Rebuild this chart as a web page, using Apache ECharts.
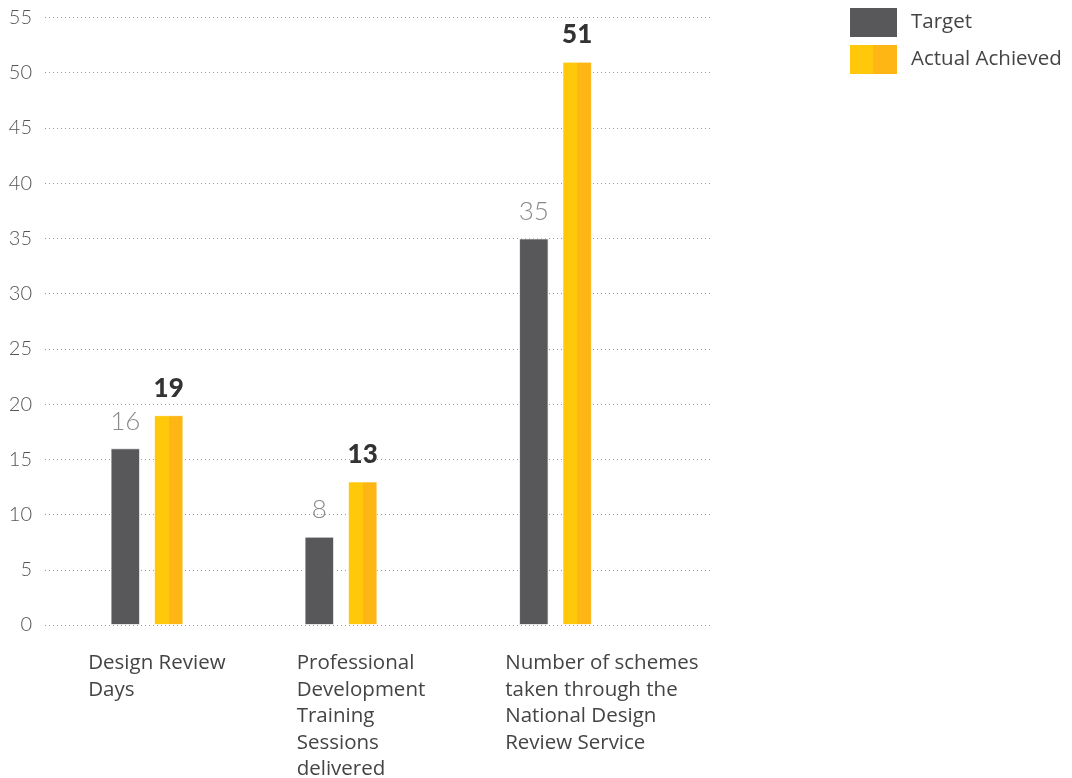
<!DOCTYPE html>
<html>
<head>
<meta charset="utf-8">
<script src="https://cdn.jsdelivr.net/npm/echarts@6/dist/echarts.min.js"></script>
<style>
  html, body { margin: 0; padding: 0; background: #fff; }
  #chart { width: 1072px; height: 778px; }
</style>
</head>
<body>
<div id="chart"></div>
<script>
// data
const categories = [
  "Design Review\nDays",
  "Professional\nDevelopment\nTraining\nSessions\ndelivered",
  "Number of schemes\ntaken through the\nNational Design\nReview Service"
];
const targetValues = [16, 8, 35];
const actualValues = [19, 13, 51];
const seriesNames = ["Target", "Actual Achieved"];
const yMin = 0, yMax = 55, yStep = 5;

// layout: bar groups sit unevenly, so each group gets its own grid
const groupCenters = [147, 341, 555.5];
const plotTop = 17.5, plotBottom = 153;

const grey = "#58585a";
const yellow = new echarts.graphic.LinearGradient(0, 0, 1, 0, [
  { offset: 0, color: "#ffc80b" },
  { offset: 0.5, color: "#ffc80b" },
  { offset: 0.5, color: "#fdb614" },
  { offset: 1, color: "#fdb614" }
]);
const font = "Lato, 'Open Sans', sans-serif";
const textFont = "'Open Sans', Lato, sans-serif";

const myChart = echarts.init(document.getElementById("chart"));

const grids = [{ left: 45, width: 668, top: plotTop, bottom: plotBottom, outerBoundsMode: "none" }];
const xAxes = [{ type: "category", gridIndex: 0, show: false, data: [""] }];
const yAxes = [{
  type: "value", gridIndex: 0, min: yMin, max: yMax, interval: yStep,
  axisLine: { show: false }, axisTick: { show: false },
  axisLabel: { margin: 13, fontSize: 20, fontWeight: 300, color: "#555", fontFamily: font },
  splitLine: { lineStyle: { color: "#9a9a9a", width: 1, type: [1, 3] } }
}];
const series = [];

groupCenters.forEach((c, i) => {
  grids.push({ left: c - 40, width: 80, top: plotTop, bottom: plotBottom, outerBoundsMode: "none" });
  xAxes.push({ type: "category", gridIndex: i + 1, show: false, data: [categories[i]] });
  yAxes.push({ type: "value", gridIndex: i + 1, min: yMin, max: yMax, show: false });
  series.push({
    name: seriesNames[0], type: "bar", xAxisIndex: i + 1, yAxisIndex: i + 1,
    data: [targetValues[i]], barWidth: 29.5, barGap: "47%",
    itemStyle: { color: grey, borderColor: "rgba(255,255,255,0.7)", borderWidth: 1 },
    label: { show: true, position: "top", distance: 14, fontSize: 26, fontWeight: 300, color: "#8a8a8a", fontFamily: font }
  });
  series.push({
    name: seriesNames[1], type: "bar", xAxisIndex: i + 1, yAxisIndex: i + 1,
    data: [actualValues[i]], barWidth: 29.5, barGap: "47%",
    itemStyle: { color: yellow, borderColor: "rgba(255,255,255,0.7)", borderWidth: 1 },
    label: { show: true, position: "top", distance: 14, fontSize: 26, fontWeight: 900, color: "#333", fontFamily: font }
  });
});

// category labels, left aligned; boundaryGap off puts ticks at grid edges + middle
grids.push({ left: 88.2, width: 417, top: plotTop, bottom: plotBottom, outerBoundsMode: "none" });
xAxes.push({
  type: "category", gridIndex: 4, data: categories, boundaryGap: false,
  axisLine: { show: false }, axisTick: { show: false },
  axisLabel: {
    interval: 0, align: "left", margin: 25, fontSize: 20.5, lineHeight: 26.5,
    color: "#444", fontFamily: textFont
  }
});
yAxes.push({ type: "value", gridIndex: 4, min: yMin, max: yMax, show: false });

const option = {
  animation: false,
  legend: {
    data: seriesNames, orient: "vertical", left: 850, top: 8, padding: 0,
    itemWidth: 47, itemHeight: 29, itemGap: 8, icon: "rect",
    itemStyle: { borderWidth: 0 },
    textStyle: { fontSize: 20.5, color: "#444", fontFamily: textFont, padding: [0, 0, 0, 9] }
  },
  grid: grids,
  xAxis: xAxes,
  yAxis: yAxes,
  series: series
};

myChart.setOption(option, true);
</script>
</body>
</html>
